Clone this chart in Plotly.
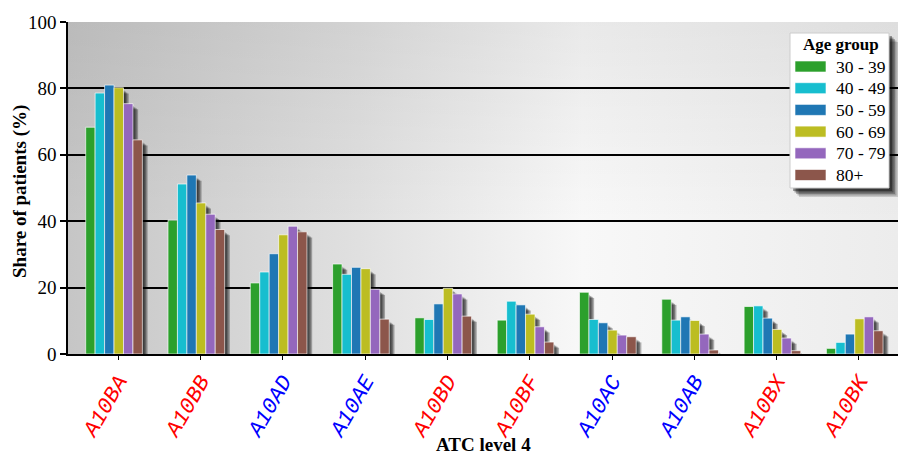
import base64
import plotly.graph_objects as go

# ATC level-4 codes and the colour of each tick label
codes = ["A10BA", "A10BB", "A10AD", "A10AE", "A10BD", "A10BF", "A10AC", "A10AB", "A10BX", "A10BK"]
code_colors = ["red", "red", "blue", "blue", "red", "red", "blue", "blue", "red", "red"]

age_groups = ["30 - 39", "40 - 49", "50 - 59", "60 - 69", "70 - 79", "80+"]
group_colors = ["#2ca02c", "#17becf", "#1f77b4", "#bcbd22", "#9467bd", "#8c564b"]

# share of patients (%) per age group, one value per ATC code
share_30_39 = [68.3, 40.3, 21.4, 27.1, 10.9, 10.2, 18.6, 16.5, 14.3, 1.7]
share_40_49 = [78.6, 51.2, 24.7, 24.0, 10.4, 15.9, 10.4, 10.2, 14.5, 3.5]
share_50_59 = [81.0, 53.9, 30.2, 26.1, 15.1, 14.8, 9.4, 11.2, 10.8, 6.0]
share_60_69 = [80.2, 45.5, 35.9, 25.7, 19.8, 12.0, 7.2, 10.1, 7.4, 10.6]
share_70_79 = [75.4, 42.1, 38.5, 19.5, 18.1, 8.2, 5.7, 6.0, 4.8, 11.2]
share_80p = [64.5, 37.5, 36.8, 10.5, 11.4, 3.6, 5.2, 1.2, 1.0, 7.0]
series = [share_30_39, share_40_49, share_50_59, share_60_69, share_70_79, share_80p]

y_ticks = [0, 20, 40, 60, 80, 100]

# ---- geometry (pixels) ----
W, H = 898, 455
ML, MR, MT, MB = 68, 0, 22, 101
PW, PH = W - ML - MR, H - MT - MB
X0, X1 = -0.611, 9.474
px_per_unit = PW / (X1 - X0)
bar_w = 0.1148
group_start = -0.396

x_pos = list(range(len(codes)))

fig = go.Figure()

# soft drop shadows behind every bar (stacked translucent layers fake a blur)
for k in range(4):
    dx = (1.0 + 1.4 * k) / px_per_unit
    dy = 0.8 + 0.3 * k
    for i, vals in enumerate(series):
        fig.add_trace(go.Bar(
            x=x_pos, y=[max(v - dy, 0) for v in vals],
            offset=group_start + i * bar_w + dx, width=bar_w,
            marker=dict(color="rgba(0,0,0,0.3)", line=dict(width=0)),
            hoverinfo="skip", showlegend=False,
        ))

# the bars
for i, vals in enumerate(series):
    fig.add_trace(go.Bar(
        x=x_pos, y=vals, name=age_groups[i],
        offset=group_start + i * bar_w, width=bar_w,
        marker=dict(color=group_colors[i], line=dict(color="rgba(255,255,255,0.65)", width=1)),
        showlegend=False,
    ))

# gradient backdrop for the plotting area
svg = (
    '<svg xmlns="http://www.w3.org/2000/svg" width="830" height="332" preserveAspectRatio="none">'
    '<defs>'
    '<linearGradient id="h" x1="0" y1="0" x2="1" y2="0">'
    '<stop offset="0" stop-color="#c6c6c6"/><stop offset="0.35" stop-color="#e0e0e0"/>'
    '<stop offset="0.62" stop-color="#f8f8f8"/><stop offset="1" stop-color="#ececec"/>'
    '</linearGradient>'
    '<linearGradient id="v" x1="0" y1="0" x2="0" y2="1">'
    '<stop offset="0" stop-color="#000" stop-opacity="0.06"/>'
    '<stop offset="0.6" stop-color="#000" stop-opacity="0"/>'
    '</linearGradient></defs>'
    '<rect width="830" height="332" fill="url(#h)"/>'
    '<rect width="830" height="332" fill="url(#v)"/></svg>'
)
bg_src = "data:image/svg+xml;base64," + base64.b64encode(svg.encode()).decode()


def px_x(p):
    return (p - ML) / PW


def px_y(p):
    return (H - MB - p) / PH


shapes = []
annotations = []

# legend box with a blurred dark shadow
lx0, lx1, ly0, ly1 = 790, 889, 33, 188
for k, a in enumerate([0.15, 0.2, 0.25, 0.3, 0.35]):
    off = 9 - k * 1.5
    shapes.append(dict(type="rect", xref="paper", yref="paper", layer="above",
                       x0=px_x(lx0 + off), x1=px_x(lx1 + off), y0=px_y(ly1 + off), y1=px_y(ly0 + off),
                       fillcolor=f"rgba(0,0,0,{a})", line=dict(width=0)))
shapes.append(dict(type="rect", xref="paper", yref="paper", layer="above",
                   x0=px_x(lx0), x1=px_x(lx1), y0=px_y(ly1), y1=px_y(ly0),
                   fillcolor="white", line=dict(color="#cccccc", width=1)))
annotations.append(dict(text="<b>Age group</b>", xref="paper", yref="paper",
                        x=px_x(840.5), y=px_y(45), xanchor="center", yanchor="middle",
                        showarrow=False, font=dict(family="Liberation Serif", size=17, color="black")))
row_y0, row_dy = 66.5, 21.7
for i, lab in enumerate(age_groups):
    cy = row_y0 + i * row_dy
    shapes.append(dict(type="rect", xref="paper", yref="paper", layer="above",
                       x0=px_x(795), x1=px_x(826), y0=px_y(cy + 5.5), y1=px_y(cy - 5.5),
                       fillcolor=group_colors[i], line=dict(color="rgba(255,255,255,0.6)", width=1)))
    annotations.append(dict(text=lab, xref="paper", yref="paper",
                            x=px_x(834), y=px_y(cy), xanchor="left", yanchor="middle",
                            showarrow=False, font=dict(family="Liberation Serif", size=17.5, color="black")))

# axis titles
annotations.append(dict(text="<b>ATC level 4</b>", xref="paper", yref="paper",
                        x=0.5, y=px_y(444), xanchor="center", yanchor="middle", showarrow=False,
                        font=dict(family="Liberation Serif", size=19, color="black")))
annotations.append(dict(text="<b>Share of patients (%)</b>", xref="paper", yref="paper",
                        x=px_x(20), y=px_y(192), xanchor="center", yanchor="middle", textangle=-90,
                        showarrow=False, font=dict(family="Liberation Serif", size=19, color="black")))

tick_text = [f'<span style="color:{c}">{t}</span>' for t, c in zip(codes, code_colors)]

fig.update_layout(
    width=W, height=H,
    margin=dict(l=ML, r=MR, t=MT, b=MB, autoexpand=False),
    barmode="overlay",
    paper_bgcolor="white",
    plot_bgcolor="rgba(0,0,0,0)",
    images=[dict(source=bg_src, xref="paper", yref="paper", x=0, y=1, sizex=1, sizey=1,
                 xanchor="left", yanchor="top", sizing="stretch", layer="below")],
    shapes=shapes,
    annotations=annotations,
    xaxis=dict(
        range=[X0, X1], tickmode="array", tickvals=x_pos, ticktext=tick_text,
        tickangle=-60, ticks="outside", ticklen=4, tickcolor="black", tickwidth=1,
        tickfont=dict(family="Liberation Mono", size=22, style="italic"),
        showgrid=False, zeroline=False, showline=True, linecolor="black", linewidth=1.5,
    ),
    yaxis=dict(
        range=[0, 100], tickmode="array", tickvals=y_ticks,
        ticks="outside", ticklen=6, tickcolor="black", tickwidth=1.5,
        tickfont=dict(family="Liberation Serif", size=19, color="black"),
        showgrid=True, gridcolor="black", gridwidth=1.5, zeroline=False,
        showline=True, linecolor="black", linewidth=1.5,
    ),
)

fig.write_html("out.html")
